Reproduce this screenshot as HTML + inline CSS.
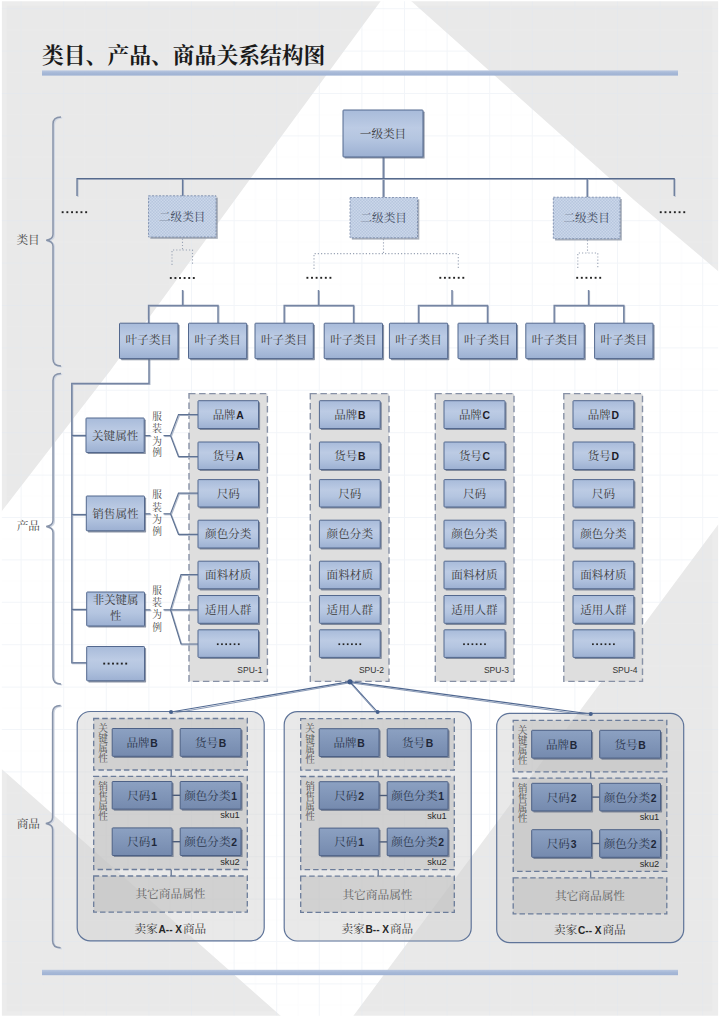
<!DOCTYPE html>
<html lang="zh"><head><meta charset="utf-8"><title>类目、产品、商品关系结构图</title>
<style>
html,body{margin:0;padding:0;background:#fff}
body{width:720px;height:1017px;overflow:hidden;font-family:"Liberation Sans",sans-serif}
svg{display:block}
svg text{font-family:"Liberation Sans",sans-serif;white-space:pre}
svg .c{font-family:"Liberation Serif","Noto Serif CJK SC",serif}
.h{fill-opacity:0;stroke:none}
</style></head><body>
<svg width="720" height="1017" viewBox="0 0 720 1017">
<defs>
<linearGradient id="gl" x1="0" y1="0" x2="0" y2="1"><stop offset="0" stop-color="#a8bbda"/><stop offset=".38" stop-color="#bccbe4"/><stop offset=".62" stop-color="#b4c5e0"/><stop offset="1" stop-color="#9cb0d2"/></linearGradient>
<linearGradient id="gb" x1="0" y1="0" x2="0" y2="1"><stop offset="0" stop-color="#b9c7e0"/><stop offset=".5" stop-color="#a6b8d7"/><stop offset="1" stop-color="#9fb2d3"/></linearGradient>
<linearGradient id="gd" x1="0" y1="0" x2="0" y2="1"><stop offset="0" stop-color="#8ca1c2"/><stop offset="1" stop-color="#758aae"/></linearGradient>
<pattern id="hatch" width="3" height="3" patternUnits="userSpaceOnUse"><rect x="0" y="0" width="1.5" height="1.5" fill="#cbd7ea"/><rect x="1.5" y="1.5" width="1.5" height="1.5" fill="#cbd7ea"/></pattern>
<pattern id="grid" width="42.6" height="42.4" x="20.6" y="8.2" patternUnits="userSpaceOnUse"><path d="M.5 0V42.4M0 .5H42.6" stroke="#e1e6f0" stroke-width="1" stroke-opacity=".42" fill="none"/><path d="M21.8 0V42.4M0 21.7H42.6" stroke="#e6ebf3" stroke-width="1" stroke-opacity=".15" fill="none"/></pattern>
</defs>
<rect width="720" height="1017" fill="#fff"/>
<rect x="1.5" y="1" width="717" height="1015" fill="#ececec"/>
<rect x="6.5" y="5.5" width="706" height="1006" fill="#e9e9e9"/>
<polygon points="381.5,0 410,0 634,200 720,272.7 720,522 352.5,1017 282,1017 0,767.5 0,513.5 110.8,370 264,160" fill="#fff"/>
<rect width="720" height="1017" fill="url(#grid)"/>
<path d="M0 0H720V1017H0Z M1.8 1.2V1015.8H718.2V1.2Z" fill="#fff" fill-rule="evenodd"/>
<rect x="42" y="70.4" width="636" height="5.2" fill="url(#gb)"/>
<rect x="42" y="969.8" width="636" height="5.4" fill="url(#gb)"/>
<text y="62.88" font-size="21.8" font-weight="700"><tspan x="42" class="c" fill="#1a1a1a">类目、产品、商品关系结构图</tspan></text>
<path d="M61 117 Q53 117 53 124 L53 234.3 Q53 239.3 46.2 240.3 Q53 241.3 53 246.3 L53 359 Q53 366 61 366" fill="none" stroke="#cfd6e2" stroke-width="1.6" transform="translate(1.2 .8)"/>
<path d="M61 117 Q53 117 53 124 L53 234.3 Q53 239.3 46.2 240.3 Q53 241.3 53 246.3 L53 359 Q53 366 61 366" fill="none" stroke="#8793a9" stroke-width="1.5"/>
<path d="M61 373.5 Q53 373.5 53 380.5 L53 520.5 Q53 525.5 46.2 526.5 Q53 527.5 53 532.5 L53 677 Q53 684 61 684" fill="none" stroke="#cfd6e2" stroke-width="1.6" transform="translate(1.2 .8)"/>
<path d="M61 373.5 Q53 373.5 53 380.5 L53 520.5 Q53 525.5 46.2 526.5 Q53 527.5 53 532.5 L53 677 Q53 684 61 684" fill="none" stroke="#8793a9" stroke-width="1.5"/>
<path d="M60.6 705.5 Q52.6 705.5 52.6 712.5 L52.6 817.5 Q52.6 822.5 45.8 823.5 Q52.6 824.5 52.6 829.5 L52.6 940.8 Q52.6 947.8 60.6 947.8" fill="none" stroke="#cfd6e2" stroke-width="1.6" transform="translate(1.2 .8)"/>
<path d="M60.6 705.5 Q52.6 705.5 52.6 712.5 L52.6 817.5 Q52.6 822.5 45.8 823.5 Q52.6 824.5 52.6 829.5 L52.6 940.8 Q52.6 947.8 60.6 947.8" fill="none" stroke="#8793a9" stroke-width="1.5"/>
<text y="244.41" font-size="11.6"><tspan x="16.4" class="c" fill="#444">类目</tspan></text>
<text y="530.41" font-size="11.6"><tspan x="16.7" class="c" fill="#444">产品</tspan></text>
<text y="827.81" font-size="11.6"><tspan x="16.7" class="c" fill="#444">商品</tspan></text>
<path d="M384.3 157.9 L384.3 197.9" fill="none" stroke="#b4bdcd" stroke-width="1.2"/>
<path d="M383.4 157 L383.4 197" fill="none" stroke="#7585a3" stroke-width="1.8"/>
<path d="M77.9 196.9 L77.9 179.5 L675.1 179.5 L675.1 196.9" fill="none" stroke="#b4bdcd" stroke-width="1.15"/>
<path d="M77 196 L77 178.6 L674.2 178.6 L674.2 196" fill="none" stroke="#566a8d" stroke-width="1.15"/>
<path d="M183.5 179.5 L183.5 196.9" fill="none" stroke="#b4bdcd" stroke-width="1.2"/>
<path d="M182.6 178.6 L182.6 196" fill="none" stroke="#66799b" stroke-width="1.4"/>
<path d="M588.1 179.5 L588.1 197.9" fill="none" stroke="#b4bdcd" stroke-width="1.2"/>
<path d="M587.2 178.6 L587.2 197" fill="none" stroke="#66799b" stroke-width="1.4"/>
<rect x="344.6" y="111.6" width="80" height="47" rx="0.7" fill="#5b6880" fill-opacity=".7"/>
<rect x="343" y="110" width="80" height="47" rx="0.7" fill="url(#gl)" stroke="#53688e" stroke-width="1"/>
<text y="138.21" font-size="11.6"><tspan x="359.8" class="c" fill="#3a3a3a">一级类目</tspan></text>
<rect x="150.3" y="197.6" width="67.5" height="41.2" fill="#8a93a3" fill-opacity=".75"/>
<rect x="148.5" y="195.8" width="67.5" height="41.2" fill="#b7c6de"/>
<rect x="148.5" y="195.8" width="67.5" height="41.2" fill="url(#hatch)" stroke="#7385a6" stroke-width=".8" stroke-dasharray="2 1.5"/>
<rect x="351.8" y="199.3" width="67.5" height="40.3" fill="#8a93a3" fill-opacity=".75"/>
<rect x="350" y="197.5" width="67.5" height="40.3" fill="#b7c6de"/>
<rect x="350" y="197.5" width="67.5" height="40.3" fill="url(#hatch)" stroke="#7385a6" stroke-width=".8" stroke-dasharray="2 1.5"/>
<rect x="555.1" y="199" width="66.7" height="41.5" fill="#8a93a3" fill-opacity=".75"/>
<rect x="553.3" y="197.2" width="66.7" height="41.5" fill="#b7c6de"/>
<rect x="553.3" y="197.2" width="66.7" height="41.5" fill="url(#hatch)" stroke="#7385a6" stroke-width=".8" stroke-dasharray="2 1.5"/>
<text y="220.81" font-size="11.6"><tspan x="159" class="c" fill="#3f4a5e">二级类目</tspan></text>
<text y="221.91" font-size="11.6"><tspan x="360.5" class="c" fill="#3f4a5e">二级类目</tspan></text>
<text y="222.21" font-size="11.6"><tspan x="563.4" class="c" fill="#3f4a5e">二级类目</tspan></text>
<g fill="#222"><rect x="61.7" y="211.25" width="1.9" height="1.9"/><rect x="66.4" y="211.25" width="1.9" height="1.9"/><rect x="71.1" y="211.25" width="1.9" height="1.9"/><rect x="75.8" y="211.25" width="1.9" height="1.9"/><rect x="80.5" y="211.25" width="1.9" height="1.9"/><rect x="85.2" y="211.25" width="1.9" height="1.9"/></g>
<text class="h" x="62.65" y="215.2" font-size="11">……</text>
<g fill="#222"><rect x="659.8" y="211.25" width="1.9" height="1.9"/><rect x="664.5" y="211.25" width="1.9" height="1.9"/><rect x="669.2" y="211.25" width="1.9" height="1.9"/><rect x="673.9" y="211.25" width="1.9" height="1.9"/><rect x="678.6" y="211.25" width="1.9" height="1.9"/><rect x="683.3" y="211.25" width="1.9" height="1.9"/></g>
<text class="h" x="660.75" y="215.2" font-size="11">……</text>
<path d="M182.5 238.5 L182.5 250" fill="none" stroke="#9aa4b5" stroke-width="1.1" stroke-dasharray="1.2 2"/>
<path d="M172 265 L172 250 L192.5 250 L192.5 265" fill="none" stroke="#9aa4b5" stroke-width="1.1" stroke-dasharray="1.2 2"/>
<path d="M383.5 239 L383.5 253.6" fill="none" stroke="#9aa4b5" stroke-width="1.1" stroke-dasharray="1.2 2"/>
<path d="M314 269 L314 253.6 L458.3 253.6 L458.3 269" fill="none" stroke="#9aa4b5" stroke-width="1.1" stroke-dasharray="1.2 2"/>
<path d="M587.5 240 L587.5 253" fill="none" stroke="#9aa4b5" stroke-width="1.1" stroke-dasharray="1.2 2"/>
<path d="M577.8 268 L577.8 253 L597.8 253 L597.8 268" fill="none" stroke="#9aa4b5" stroke-width="1.1" stroke-dasharray="1.2 2"/>
<g fill="#222"><rect x="169.85" y="277.05" width="1.9" height="1.9"/><rect x="174.45" y="277.05" width="1.9" height="1.9"/><rect x="179.05" y="277.05" width="1.9" height="1.9"/><rect x="183.65" y="277.05" width="1.9" height="1.9"/><rect x="188.25" y="277.05" width="1.9" height="1.9"/><rect x="192.85" y="277.05" width="1.9" height="1.9"/></g>
<text class="h" x="170.8" y="281" font-size="11">……</text>
<g fill="#222"><rect x="306.45" y="276.85" width="1.9" height="1.9"/><rect x="311.05" y="276.85" width="1.9" height="1.9"/><rect x="315.65" y="276.85" width="1.9" height="1.9"/><rect x="320.25" y="276.85" width="1.9" height="1.9"/><rect x="324.85" y="276.85" width="1.9" height="1.9"/><rect x="329.45" y="276.85" width="1.9" height="1.9"/></g>
<text class="h" x="307.4" y="280.8" font-size="11">……</text>
<g fill="#222"><rect x="439.35" y="276.85" width="1.9" height="1.9"/><rect x="443.95" y="276.85" width="1.9" height="1.9"/><rect x="448.55" y="276.85" width="1.9" height="1.9"/><rect x="453.15" y="276.85" width="1.9" height="1.9"/><rect x="457.75" y="276.85" width="1.9" height="1.9"/><rect x="462.35" y="276.85" width="1.9" height="1.9"/></g>
<text class="h" x="440.3" y="280.8" font-size="11">……</text>
<g fill="#222"><rect x="576.25" y="276.85" width="1.9" height="1.9"/><rect x="580.85" y="276.85" width="1.9" height="1.9"/><rect x="585.45" y="276.85" width="1.9" height="1.9"/><rect x="590.05" y="276.85" width="1.9" height="1.9"/><rect x="594.65" y="276.85" width="1.9" height="1.9"/><rect x="599.25" y="276.85" width="1.9" height="1.9"/></g>
<text class="h" x="577.2" y="280.8" font-size="11">……</text>
<path d="M183.5 290.9 L183.5 306.3" fill="none" stroke="#b4bdcd" stroke-width="1.2"/>
<path d="M182.6 290 L182.6 305.4" fill="none" stroke="#7585a3" stroke-width="1.5"/>
<path d="M149.5 323.9 L149.5 306.3 L218.9 306.3 L218.9 323.9" fill="none" stroke="#b4bdcd" stroke-width="1.2"/>
<path d="M148.6 323 L148.6 305.4 L218 305.4 L218 323" fill="none" stroke="#7585a3" stroke-width="1.5"/>
<path d="M319.4 290.9 L319.4 306.3" fill="none" stroke="#b4bdcd" stroke-width="1.2"/>
<path d="M318.5 290 L318.5 305.4" fill="none" stroke="#7585a3" stroke-width="1.5"/>
<path d="M285.1 323.9 L285.1 306.3 L354.5 306.3 L354.5 323.9" fill="none" stroke="#b4bdcd" stroke-width="1.2"/>
<path d="M284.2 323 L284.2 305.4 L353.6 305.4 L353.6 323" fill="none" stroke="#7585a3" stroke-width="1.5"/>
<path d="M452.9 290.9 L452.9 306.3" fill="none" stroke="#b4bdcd" stroke-width="1.2"/>
<path d="M452 290 L452 305.4" fill="none" stroke="#7585a3" stroke-width="1.5"/>
<path d="M419.4 323.9 L419.4 306.3 L488.4 306.3 L488.4 323.9" fill="none" stroke="#b4bdcd" stroke-width="1.2"/>
<path d="M418.5 323 L418.5 305.4 L487.5 305.4 L487.5 323" fill="none" stroke="#7585a3" stroke-width="1.5"/>
<path d="M589.5 290.9 L589.5 306.3" fill="none" stroke="#b4bdcd" stroke-width="1.2"/>
<path d="M588.6 290 L588.6 305.4" fill="none" stroke="#7585a3" stroke-width="1.5"/>
<path d="M555.1 323.9 L555.1 306.3 L624.7 306.3 L624.7 323.9" fill="none" stroke="#b4bdcd" stroke-width="1.2"/>
<path d="M554.2 323 L554.2 305.4 L623.8 305.4 L623.8 323" fill="none" stroke="#7585a3" stroke-width="1.5"/>
<path d="M149.9 359.9 L149.9 384.5 L72.7 384.5 L72.7 663.7 L87.6 663.7" fill="none" stroke="#b4bdcd" stroke-width="1.2"/>
<path d="M149 359 L149 383.6 L71.8 383.6 L71.8 662.8 L86.7 662.8" fill="none" stroke="#7585a3" stroke-width="1.5"/>
<path d="M72.7 436.4 L86.9 436.4" fill="none" stroke="#b4bdcd" stroke-width="1.2"/>
<path d="M71.8 435.5 L86 435.5" fill="none" stroke="#5f7394" stroke-width="1.4"/>
<path d="M72.7 515.5 L86.9 515.5" fill="none" stroke="#b4bdcd" stroke-width="1.2"/>
<path d="M71.8 514.6 L86 514.6" fill="none" stroke="#5f7394" stroke-width="1.4"/>
<path d="M72.7 610.4 L87.6 610.4" fill="none" stroke="#b4bdcd" stroke-width="1.2"/>
<path d="M71.8 609.5 L86.7 609.5" fill="none" stroke="#5f7394" stroke-width="1.4"/>
<rect x="121.1" y="324.8" width="58.5" height="35.4" rx="0.7" fill="#5b6880" fill-opacity=".7"/>
<rect x="119.5" y="323.2" width="58.5" height="35.4" rx="0.7" fill="url(#gl)" stroke="#53688e" stroke-width="1"/>
<text y="344.41" font-size="11.6"><tspan x="125.55" class="c" fill="#3a3a3a">叶子类目</tspan></text>
<rect x="190.1" y="324.8" width="58.2" height="35.4" rx="0.7" fill="#5b6880" fill-opacity=".7"/>
<rect x="188.5" y="323.2" width="58.2" height="35.4" rx="0.7" fill="url(#gl)" stroke="#53688e" stroke-width="1"/>
<text y="344.41" font-size="11.6"><tspan x="194.4" class="c" fill="#3a3a3a">叶子类目</tspan></text>
<rect x="256.6" y="324.8" width="58.3" height="35.4" rx="0.7" fill="#5b6880" fill-opacity=".7"/>
<rect x="255" y="323.2" width="58.3" height="35.4" rx="0.7" fill="url(#gl)" stroke="#53688e" stroke-width="1"/>
<text y="344.41" font-size="11.6"><tspan x="260.95" class="c" fill="#3a3a3a">叶子类目</tspan></text>
<rect x="325.8" y="324.8" width="58.3" height="35.4" rx="0.7" fill="#5b6880" fill-opacity=".7"/>
<rect x="324.2" y="323.2" width="58.3" height="35.4" rx="0.7" fill="url(#gl)" stroke="#53688e" stroke-width="1"/>
<text y="344.41" font-size="11.6"><tspan x="330.15" class="c" fill="#3a3a3a">叶子类目</tspan></text>
<rect x="391" y="324.8" width="58.3" height="35.4" rx="0.7" fill="#5b6880" fill-opacity=".7"/>
<rect x="389.4" y="323.2" width="58.3" height="35.4" rx="0.7" fill="url(#gl)" stroke="#53688e" stroke-width="1"/>
<text y="344.41" font-size="11.6"><tspan x="395.35" class="c" fill="#3a3a3a">叶子类目</tspan></text>
<rect x="459.6" y="324.8" width="58.5" height="35.4" rx="0.7" fill="#5b6880" fill-opacity=".7"/>
<rect x="458" y="323.2" width="58.5" height="35.4" rx="0.7" fill="url(#gl)" stroke="#53688e" stroke-width="1"/>
<text y="344.41" font-size="11.6"><tspan x="464.05" class="c" fill="#3a3a3a">叶子类目</tspan></text>
<rect x="527.4" y="324.8" width="58.4" height="35.4" rx="0.7" fill="#5b6880" fill-opacity=".7"/>
<rect x="525.8" y="323.2" width="58.4" height="35.4" rx="0.7" fill="url(#gl)" stroke="#53688e" stroke-width="1"/>
<text y="344.41" font-size="11.6"><tspan x="531.8" class="c" fill="#3a3a3a">叶子类目</tspan></text>
<rect x="596.2" y="324.8" width="58.4" height="35.4" rx="0.7" fill="#5b6880" fill-opacity=".7"/>
<rect x="594.6" y="323.2" width="58.4" height="35.4" rx="0.7" fill="url(#gl)" stroke="#53688e" stroke-width="1"/>
<text y="344.41" font-size="11.6"><tspan x="600.6" class="c" fill="#3a3a3a">叶子类目</tspan></text>
<rect x="189" y="393.6" width="78.4" height="287.8" fill="#dedede" stroke="#8791a6" stroke-width="1.4" stroke-dasharray="6.5 3.6"/>
<rect x="310.3" y="393.6" width="78.7" height="287.8" fill="#dedede" stroke="#8791a6" stroke-width="1.4" stroke-dasharray="6.5 3.6"/>
<rect x="435.3" y="393.6" width="78.7" height="287.8" fill="#dedede" stroke="#8791a6" stroke-width="1.4" stroke-dasharray="6.5 3.6"/>
<rect x="563.8" y="393.6" width="78.7" height="287.8" fill="#dedede" stroke="#8791a6" stroke-width="1.4" stroke-dasharray="6.5 3.6"/>
<path d="M145.4 436.5 L151.4 436.5" fill="none" stroke="#b4bdcd" stroke-width="1.2"/>
<path d="M144.5 435.6 L150.5 435.6" fill="none" stroke="#5f7394" stroke-width="1.2"/>
<path d="M164.4 436.5 L171.4 436.5" fill="none" stroke="#b4bdcd" stroke-width="1.2"/>
<path d="M163.5 435.6 L170.5 435.6" fill="none" stroke="#5f7394" stroke-width="1.2"/>
<path d="M171.4 436.5 L179.4 415.5 L198.9 415.5" fill="none" stroke="#b4bdcd" stroke-width="1.2"/>
<path d="M170.5 435.6 L178.5 414.6 L198 414.6" fill="none" stroke="#5f7394" stroke-width="1.2"/>
<path d="M171.4 436.5 L179.4 457.5 L198.9 457.5" fill="none" stroke="#b4bdcd" stroke-width="1.2"/>
<path d="M170.5 435.6 L178.5 456.6 L198 456.6" fill="none" stroke="#5f7394" stroke-width="1.2"/>
<path d="M145.4 514.7 L151.4 514.7" fill="none" stroke="#b4bdcd" stroke-width="1.2"/>
<path d="M144.5 513.8 L150.5 513.8" fill="none" stroke="#5f7394" stroke-width="1.2"/>
<path d="M164.4 514.7 L171.4 514.7" fill="none" stroke="#b4bdcd" stroke-width="1.2"/>
<path d="M163.5 513.8 L170.5 513.8" fill="none" stroke="#5f7394" stroke-width="1.2"/>
<path d="M171.4 514.7 L179.4 494.1 L198.9 494.1" fill="none" stroke="#b4bdcd" stroke-width="1.2"/>
<path d="M170.5 513.8 L178.5 493.2 L198 493.2" fill="none" stroke="#5f7394" stroke-width="1.2"/>
<path d="M171.4 514.7 L179.4 535.3 L198.9 535.3" fill="none" stroke="#b4bdcd" stroke-width="1.2"/>
<path d="M170.5 513.8 L178.5 534.4 L198 534.4" fill="none" stroke="#5f7394" stroke-width="1.2"/>
<path d="M145.4 610.7 L151.4 610.7" fill="none" stroke="#b4bdcd" stroke-width="1.2"/>
<path d="M144.5 609.8 L150.5 609.8" fill="none" stroke="#5f7394" stroke-width="1.2"/>
<path d="M164.4 610.7 L171.4 610.7" fill="none" stroke="#b4bdcd" stroke-width="1.2"/>
<path d="M163.5 609.8 L170.5 609.8" fill="none" stroke="#5f7394" stroke-width="1.2"/>
<path d="M171.4 610.7 L181.9 575.5 L198.9 575.5" fill="none" stroke="#b4bdcd" stroke-width="1.2"/>
<path d="M170.5 609.8 L181 574.6 L198 574.6" fill="none" stroke="#5f7394" stroke-width="1.2"/>
<path d="M171.4 610.7 L198.9 610.7" fill="none" stroke="#b4bdcd" stroke-width="1.2"/>
<path d="M170.5 609.8 L198 609.8" fill="none" stroke="#5f7394" stroke-width="1.2"/>
<path d="M171.4 610.7 L181.9 644.9 L198.9 644.9" fill="none" stroke="#b4bdcd" stroke-width="1.2"/>
<path d="M170.5 609.8 L181 644 L198 644" fill="none" stroke="#5f7394" stroke-width="1.2"/>
<rect x="87.6" y="419.6" width="58.2" height="34.5" rx="0.7" fill="#5b6880" fill-opacity=".7"/>
<rect x="86" y="418" width="58.2" height="34.5" rx="0.7" fill="url(#gl)" stroke="#53688e" stroke-width="1"/>
<text y="439.61" font-size="11.6"><tspan x="92" class="c" fill="#3a3a3a">关键属性</tspan></text>
<rect x="87.9" y="497.6" width="58.2" height="34.8" rx="0.7" fill="#5b6880" fill-opacity=".7"/>
<rect x="86.3" y="496" width="58.2" height="34.8" rx="0.7" fill="url(#gl)" stroke="#53688e" stroke-width="1"/>
<text y="517.81" font-size="11.6"><tspan x="92.2" class="c" fill="#3a3a3a">销售属性</tspan></text>
<rect x="88.3" y="593.6" width="57.8" height="34" rx="0.7" fill="#5b6880" fill-opacity=".7"/>
<rect x="86.7" y="592" width="57.8" height="34" rx="0.7" fill="url(#gl)" stroke="#53688e" stroke-width="1"/>
<text y="603.93" font-size="11.4"><tspan x="92.8" class="c" fill="#3a3a3a">非关键属</tspan></text>
<text y="619.93" font-size="11.4"><tspan x="109.9" class="c" fill="#3a3a3a">性</tspan></text>
<rect x="88.3" y="648.1" width="57.8" height="34.3" rx="0.7" fill="#5b6880" fill-opacity=".7"/>
<rect x="86.7" y="646.5" width="57.8" height="34.3" rx="0.7" fill="url(#gl)" stroke="#53688e" stroke-width="1"/>
<g fill="#222"><rect x="103.25" y="662.65" width="1.9" height="1.9"/><rect x="107.65" y="662.65" width="1.9" height="1.9"/><rect x="112.05" y="662.65" width="1.9" height="1.9"/><rect x="116.45" y="662.65" width="1.9" height="1.9"/><rect x="120.85" y="662.65" width="1.9" height="1.9"/><rect x="125.25" y="662.65" width="1.9" height="1.9"/></g>
<text class="h" x="104.2" y="666.6" font-size="11">……</text>
<text class="c" font-size="9.7" fill="#4a4a4a"><tspan x="152.15" y="420.09">服</tspan><tspan x="152.15" y="432.49">装</tspan><tspan x="152.15" y="444.69">为</tspan><tspan x="152.15" y="456.49">例</tspan></text>
<text class="c" font-size="9.7" fill="#4a4a4a"><tspan x="152.15" y="498.19">服</tspan><tspan x="152.15" y="510.59">装</tspan><tspan x="152.15" y="522.79">为</tspan><tspan x="152.15" y="534.59">例</tspan></text>
<text class="c" font-size="9.7" fill="#4a4a4a"><tspan x="152.15" y="593.89">服</tspan><tspan x="152.15" y="606.49">装</tspan><tspan x="152.15" y="618.49">为</tspan><tspan x="152.15" y="630.69">例</tspan></text>
<rect x="199.6" y="402.3" width="60.5" height="27.8" rx="0.7" fill="#5b6880" fill-opacity=".7"/>
<rect x="198" y="400.7" width="60.5" height="27.8" rx="0.7" fill="url(#gl)" stroke="#53688e" stroke-width="1"/>
<text y="418.77" font-size="11.5"><tspan x="212.64" class="c" fill="#3a3a3a">品牌</tspan><tspan x="236.34" font-size="10.4" font-weight="700" fill="#1c1c28">A</tspan></text>
<rect x="199.6" y="443.6" width="60.5" height="27.5" rx="0.7" fill="#5b6880" fill-opacity=".7"/>
<rect x="198" y="442" width="60.5" height="27.5" rx="0.7" fill="url(#gl)" stroke="#53688e" stroke-width="1"/>
<text y="459.92" font-size="11.5"><tspan x="212.64" class="c" fill="#3a3a3a">货号</tspan><tspan x="236.34" font-size="10.4" font-weight="700" fill="#1c1c28">A</tspan></text>
<rect x="199.6" y="481.2" width="60.5" height="27.4" rx="0.7" fill="#5b6880" fill-opacity=".7"/>
<rect x="198" y="479.6" width="60.5" height="27.4" rx="0.7" fill="url(#gl)" stroke="#53688e" stroke-width="1"/>
<text y="497.51" font-size="11.6"><tspan x="216.65" class="c" fill="#3a3a3a">尺码</tspan></text>
<rect x="199.6" y="521.8" width="60.5" height="27.8" rx="0.7" fill="#5b6880" fill-opacity=".7"/>
<rect x="198" y="520.2" width="60.5" height="27.8" rx="0.7" fill="url(#gl)" stroke="#53688e" stroke-width="1"/>
<text y="538.31" font-size="11.6"><tspan x="205.05" class="c" fill="#3a3a3a">颜色分类</tspan></text>
<rect x="199.6" y="562.8" width="60.5" height="27.6" rx="0.7" fill="#5b6880" fill-opacity=".7"/>
<rect x="198" y="561.2" width="60.5" height="27.6" rx="0.7" fill="url(#gl)" stroke="#53688e" stroke-width="1"/>
<text y="579.21" font-size="11.6"><tspan x="205.05" class="c" fill="#3a3a3a">面料材质</tspan></text>
<rect x="199.6" y="597.1" width="60.5" height="27.8" rx="0.7" fill="#5b6880" fill-opacity=".7"/>
<rect x="198" y="595.5" width="60.5" height="27.8" rx="0.7" fill="url(#gl)" stroke="#53688e" stroke-width="1"/>
<text y="613.61" font-size="11.6"><tspan x="205.05" class="c" fill="#3a3a3a">适用人群</tspan></text>
<rect x="199.6" y="631.4" width="60.5" height="27.6" rx="0.7" fill="#5b6880" fill-opacity=".7"/>
<rect x="198" y="629.8" width="60.5" height="27.6" rx="0.7" fill="url(#gl)" stroke="#53688e" stroke-width="1"/>
<g fill="#222"><rect x="216.9" y="643.35" width="1.7" height="1.7"/><rect x="221.1" y="643.35" width="1.7" height="1.7"/><rect x="225.3" y="643.35" width="1.7" height="1.7"/><rect x="229.5" y="643.35" width="1.7" height="1.7"/><rect x="233.7" y="643.35" width="1.7" height="1.7"/><rect x="237.9" y="643.35" width="1.7" height="1.7"/></g>
<text class="h" x="217.75" y="647.2" font-size="11">……</text>
<text x="262.4" y="673.4" text-anchor="end" font-size="8.5" fill="#333">SPU-1</text>
<rect x="321" y="402.3" width="60.8" height="27.8" rx="0.7" fill="#5b6880" fill-opacity=".7"/>
<rect x="319.4" y="400.7" width="60.8" height="27.8" rx="0.7" fill="url(#gl)" stroke="#53688e" stroke-width="1"/>
<text y="418.77" font-size="11.5"><tspan x="334.19" class="c" fill="#3a3a3a">品牌</tspan><tspan x="357.89" font-size="10.4" font-weight="700" fill="#1c1c28">B</tspan></text>
<rect x="321" y="443.6" width="60.8" height="27.5" rx="0.7" fill="#5b6880" fill-opacity=".7"/>
<rect x="319.4" y="442" width="60.8" height="27.5" rx="0.7" fill="url(#gl)" stroke="#53688e" stroke-width="1"/>
<text y="459.92" font-size="11.5"><tspan x="334.19" class="c" fill="#3a3a3a">货号</tspan><tspan x="357.89" font-size="10.4" font-weight="700" fill="#1c1c28">B</tspan></text>
<rect x="321" y="481.2" width="60.8" height="27.4" rx="0.7" fill="#5b6880" fill-opacity=".7"/>
<rect x="319.4" y="479.6" width="60.8" height="27.4" rx="0.7" fill="url(#gl)" stroke="#53688e" stroke-width="1"/>
<text y="497.51" font-size="11.6"><tspan x="338.2" class="c" fill="#3a3a3a">尺码</tspan></text>
<rect x="321" y="521.8" width="60.8" height="27.8" rx="0.7" fill="#5b6880" fill-opacity=".7"/>
<rect x="319.4" y="520.2" width="60.8" height="27.8" rx="0.7" fill="url(#gl)" stroke="#53688e" stroke-width="1"/>
<text y="538.31" font-size="11.6"><tspan x="326.6" class="c" fill="#3a3a3a">颜色分类</tspan></text>
<rect x="321" y="562.8" width="60.8" height="27.6" rx="0.7" fill="#5b6880" fill-opacity=".7"/>
<rect x="319.4" y="561.2" width="60.8" height="27.6" rx="0.7" fill="url(#gl)" stroke="#53688e" stroke-width="1"/>
<text y="579.21" font-size="11.6"><tspan x="326.6" class="c" fill="#3a3a3a">面料材质</tspan></text>
<rect x="321" y="597.1" width="60.8" height="27.8" rx="0.7" fill="#5b6880" fill-opacity=".7"/>
<rect x="319.4" y="595.5" width="60.8" height="27.8" rx="0.7" fill="url(#gl)" stroke="#53688e" stroke-width="1"/>
<text y="613.61" font-size="11.6"><tspan x="326.6" class="c" fill="#3a3a3a">适用人群</tspan></text>
<rect x="321" y="631.4" width="60.8" height="27.6" rx="0.7" fill="#5b6880" fill-opacity=".7"/>
<rect x="319.4" y="629.8" width="60.8" height="27.6" rx="0.7" fill="url(#gl)" stroke="#53688e" stroke-width="1"/>
<g fill="#222"><rect x="338.45" y="643.35" width="1.7" height="1.7"/><rect x="342.65" y="643.35" width="1.7" height="1.7"/><rect x="346.85" y="643.35" width="1.7" height="1.7"/><rect x="351.05" y="643.35" width="1.7" height="1.7"/><rect x="355.25" y="643.35" width="1.7" height="1.7"/><rect x="359.45" y="643.35" width="1.7" height="1.7"/></g>
<text class="h" x="339.3" y="647.2" font-size="11">……</text>
<text x="384" y="673.4" text-anchor="end" font-size="8.5" fill="#333">SPU-2</text>
<rect x="445.6" y="402.3" width="61" height="27.8" rx="0.7" fill="#5b6880" fill-opacity=".7"/>
<rect x="444" y="400.7" width="61" height="27.8" rx="0.7" fill="url(#gl)" stroke="#53688e" stroke-width="1"/>
<text y="418.77" font-size="11.5"><tspan x="458.89" class="c" fill="#3a3a3a">品牌</tspan><tspan x="482.59" font-size="10.4" font-weight="700" fill="#1c1c28">C</tspan></text>
<rect x="445.6" y="443.6" width="61" height="27.5" rx="0.7" fill="#5b6880" fill-opacity=".7"/>
<rect x="444" y="442" width="61" height="27.5" rx="0.7" fill="url(#gl)" stroke="#53688e" stroke-width="1"/>
<text y="459.92" font-size="11.5"><tspan x="458.89" class="c" fill="#3a3a3a">货号</tspan><tspan x="482.59" font-size="10.4" font-weight="700" fill="#1c1c28">C</tspan></text>
<rect x="445.6" y="481.2" width="61" height="27.4" rx="0.7" fill="#5b6880" fill-opacity=".7"/>
<rect x="444" y="479.6" width="61" height="27.4" rx="0.7" fill="url(#gl)" stroke="#53688e" stroke-width="1"/>
<text y="497.51" font-size="11.6"><tspan x="462.9" class="c" fill="#3a3a3a">尺码</tspan></text>
<rect x="445.6" y="521.8" width="61" height="27.8" rx="0.7" fill="#5b6880" fill-opacity=".7"/>
<rect x="444" y="520.2" width="61" height="27.8" rx="0.7" fill="url(#gl)" stroke="#53688e" stroke-width="1"/>
<text y="538.31" font-size="11.6"><tspan x="451.3" class="c" fill="#3a3a3a">颜色分类</tspan></text>
<rect x="445.6" y="562.8" width="61" height="27.6" rx="0.7" fill="#5b6880" fill-opacity=".7"/>
<rect x="444" y="561.2" width="61" height="27.6" rx="0.7" fill="url(#gl)" stroke="#53688e" stroke-width="1"/>
<text y="579.21" font-size="11.6"><tspan x="451.3" class="c" fill="#3a3a3a">面料材质</tspan></text>
<rect x="445.6" y="597.1" width="61" height="27.8" rx="0.7" fill="#5b6880" fill-opacity=".7"/>
<rect x="444" y="595.5" width="61" height="27.8" rx="0.7" fill="url(#gl)" stroke="#53688e" stroke-width="1"/>
<text y="613.61" font-size="11.6"><tspan x="451.3" class="c" fill="#3a3a3a">适用人群</tspan></text>
<rect x="445.6" y="631.4" width="61" height="27.6" rx="0.7" fill="#5b6880" fill-opacity=".7"/>
<rect x="444" y="629.8" width="61" height="27.6" rx="0.7" fill="url(#gl)" stroke="#53688e" stroke-width="1"/>
<g fill="#222"><rect x="463.15" y="643.35" width="1.7" height="1.7"/><rect x="467.35" y="643.35" width="1.7" height="1.7"/><rect x="471.55" y="643.35" width="1.7" height="1.7"/><rect x="475.75" y="643.35" width="1.7" height="1.7"/><rect x="479.95" y="643.35" width="1.7" height="1.7"/><rect x="484.15" y="643.35" width="1.7" height="1.7"/></g>
<text class="h" x="464" y="647.2" font-size="11">……</text>
<text x="509" y="673.4" text-anchor="end" font-size="8.5" fill="#333">SPU-3</text>
<rect x="574.6" y="402.3" width="60.8" height="27.8" rx="0.7" fill="#5b6880" fill-opacity=".7"/>
<rect x="573" y="400.7" width="60.8" height="27.8" rx="0.7" fill="url(#gl)" stroke="#53688e" stroke-width="1"/>
<text y="418.77" font-size="11.5"><tspan x="587.79" class="c" fill="#3a3a3a">品牌</tspan><tspan x="611.49" font-size="10.4" font-weight="700" fill="#1c1c28">D</tspan></text>
<rect x="574.6" y="443.6" width="60.8" height="27.5" rx="0.7" fill="#5b6880" fill-opacity=".7"/>
<rect x="573" y="442" width="60.8" height="27.5" rx="0.7" fill="url(#gl)" stroke="#53688e" stroke-width="1"/>
<text y="459.92" font-size="11.5"><tspan x="587.79" class="c" fill="#3a3a3a">货号</tspan><tspan x="611.49" font-size="10.4" font-weight="700" fill="#1c1c28">D</tspan></text>
<rect x="574.6" y="481.2" width="60.8" height="27.4" rx="0.7" fill="#5b6880" fill-opacity=".7"/>
<rect x="573" y="479.6" width="60.8" height="27.4" rx="0.7" fill="url(#gl)" stroke="#53688e" stroke-width="1"/>
<text y="497.51" font-size="11.6"><tspan x="591.8" class="c" fill="#3a3a3a">尺码</tspan></text>
<rect x="574.6" y="521.8" width="60.8" height="27.8" rx="0.7" fill="#5b6880" fill-opacity=".7"/>
<rect x="573" y="520.2" width="60.8" height="27.8" rx="0.7" fill="url(#gl)" stroke="#53688e" stroke-width="1"/>
<text y="538.31" font-size="11.6"><tspan x="580.2" class="c" fill="#3a3a3a">颜色分类</tspan></text>
<rect x="574.6" y="562.8" width="60.8" height="27.6" rx="0.7" fill="#5b6880" fill-opacity=".7"/>
<rect x="573" y="561.2" width="60.8" height="27.6" rx="0.7" fill="url(#gl)" stroke="#53688e" stroke-width="1"/>
<text y="579.21" font-size="11.6"><tspan x="580.2" class="c" fill="#3a3a3a">面料材质</tspan></text>
<rect x="574.6" y="597.1" width="60.8" height="27.8" rx="0.7" fill="#5b6880" fill-opacity=".7"/>
<rect x="573" y="595.5" width="60.8" height="27.8" rx="0.7" fill="url(#gl)" stroke="#53688e" stroke-width="1"/>
<text y="613.61" font-size="11.6"><tspan x="580.2" class="c" fill="#3a3a3a">适用人群</tspan></text>
<rect x="574.6" y="631.4" width="60.8" height="27.6" rx="0.7" fill="#5b6880" fill-opacity=".7"/>
<rect x="573" y="629.8" width="60.8" height="27.6" rx="0.7" fill="url(#gl)" stroke="#53688e" stroke-width="1"/>
<g fill="#222"><rect x="592.05" y="643.35" width="1.7" height="1.7"/><rect x="596.25" y="643.35" width="1.7" height="1.7"/><rect x="600.45" y="643.35" width="1.7" height="1.7"/><rect x="604.65" y="643.35" width="1.7" height="1.7"/><rect x="608.85" y="643.35" width="1.7" height="1.7"/><rect x="613.05" y="643.35" width="1.7" height="1.7"/></g>
<text class="h" x="592.9" y="647.2" font-size="11">……</text>
<text x="637.5" y="673.4" text-anchor="end" font-size="8.5" fill="#333">SPU-4</text>
<path d="M350 682.8 L171 713.6" stroke="#4f6790" stroke-width=".9" fill="none" stroke-opacity=".75"/>
<path d="M350 681.6 L171 712" stroke="#4f6790" stroke-width="1.1" fill="none"/>
<path d="M350 682.8 L377.6 713.6" stroke="#4f6790" stroke-width=".9" fill="none" stroke-opacity=".75"/>
<path d="M350 681.6 L377.6 712" stroke="#4f6790" stroke-width="1.1" fill="none"/>
<path d="M350 682.8 L590.8 715.6" stroke="#4f6790" stroke-width=".9" fill="none" stroke-opacity=".75"/>
<path d="M350 681.6 L590.8 714" stroke="#4f6790" stroke-width="1.1" fill="none"/>
<rect x="77.2" y="711.5" width="187" height="229.3" rx="13" fill="#cfcfcf" fill-opacity=".46" stroke="#5f7499" stroke-width="1.2"/>
<path d="M171.2 770 L171.2 776.5" fill="none" stroke="#5a6c8c" stroke-width="1.2"/>
<path d="M171.2 869.5 L171.2 876" fill="none" stroke="#5a6c8c" stroke-width="1.2"/>
<rect x="93.7" y="718.5" width="153.6" height="51.5" fill="#c2c2c2" fill-opacity=".62" stroke="#6b7c9a" stroke-width="1.3" stroke-dasharray="5.5 3"/>
<rect x="93.7" y="776.3" width="153.6" height="93.2" fill="#c2c2c2" fill-opacity=".62" stroke="#6b7c9a" stroke-width="1.3" stroke-dasharray="5.5 3"/>
<rect x="93.7" y="876" width="153.6" height="36.1" fill="#c2c2c2" fill-opacity=".62" stroke="#6b7c9a" stroke-width="1.3" stroke-dasharray="5.5 3"/>
<rect x="113.8" y="730.1" width="59.8" height="27.8" rx="0.7" fill="#5b6880" fill-opacity=".7"/>
<rect x="112.2" y="728.5" width="59.8" height="27.8" rx="0.7" fill="url(#gd)" stroke="#4d6186" stroke-width="1"/>
<text y="746.71" font-size="11.6"><tspan x="126.39" class="c" fill="#2c374d">品牌</tspan><tspan x="150.29" font-size="10.4" font-weight="700" fill="#1e2738">B</tspan></text>
<rect x="181.8" y="730.1" width="60.8" height="27.8" rx="0.7" fill="#5b6880" fill-opacity=".7"/>
<rect x="180.2" y="728.5" width="60.8" height="27.8" rx="0.7" fill="url(#gd)" stroke="#4d6186" stroke-width="1"/>
<text y="746.71" font-size="11.6"><tspan x="194.89" class="c" fill="#2c374d">货号</tspan><tspan x="218.79" font-size="10.4" font-weight="700" fill="#1e2738">B</tspan></text>
<path d="M172 795.3 L180.2 795.3" fill="none" stroke="#4a5a78" stroke-width="1.4"/>
<rect x="113.8" y="783.1" width="59.8" height="27.6" rx="0.7" fill="#5b6880" fill-opacity=".7"/>
<rect x="112.2" y="781.5" width="59.8" height="27.6" rx="0.7" fill="url(#gd)" stroke="#4d6186" stroke-width="1"/>
<text y="799.71" font-size="11.6"><tspan x="127.26" class="c" fill="#2c374d">尺码</tspan><tspan x="151.16" font-size="10.4" font-weight="700" fill="#1e2738">1</tspan></text>
<rect x="181.8" y="783.1" width="60.8" height="27.6" rx="0.7" fill="#5b6880" fill-opacity=".7"/>
<rect x="180.2" y="781.5" width="60.8" height="27.6" rx="0.7" fill="url(#gd)" stroke="#4d6186" stroke-width="1"/>
<text y="799.71" font-size="11.6"><tspan x="184.16" class="c" fill="#2c374d">颜色分类</tspan><tspan x="231.26" font-size="10.4" font-weight="700" fill="#1e2738">1</tspan></text>
<text x="239.8" y="818.3" text-anchor="end" font-size="9.3" fill="#2a2a2a">sku1</text>
<path d="M172 841.7 L180.2 841.7" fill="none" stroke="#4a5a78" stroke-width="1.4"/>
<rect x="113.8" y="829.5" width="59.8" height="27.6" rx="0.7" fill="#5b6880" fill-opacity=".7"/>
<rect x="112.2" y="827.9" width="59.8" height="27.6" rx="0.7" fill="url(#gd)" stroke="#4d6186" stroke-width="1"/>
<text y="846.11" font-size="11.6"><tspan x="127.26" class="c" fill="#2c374d">尺码</tspan><tspan x="151.16" font-size="10.4" font-weight="700" fill="#1e2738">1</tspan></text>
<rect x="181.8" y="829.5" width="60.8" height="27.6" rx="0.7" fill="#5b6880" fill-opacity=".7"/>
<rect x="180.2" y="827.9" width="60.8" height="27.6" rx="0.7" fill="url(#gd)" stroke="#4d6186" stroke-width="1"/>
<text y="846.11" font-size="11.6"><tspan x="184.16" class="c" fill="#2c374d">颜色分类</tspan><tspan x="231.26" font-size="10.4" font-weight="700" fill="#1e2738">2</tspan></text>
<text x="239.8" y="864.7" text-anchor="end" font-size="9.3" fill="#2a2a2a">sku2</text>
<text class="c" font-size="9.7" fill="#505050"><tspan x="98.35" y="732.19">关</tspan><tspan x="98.35" y="742.39">键</tspan><tspan x="98.35" y="752.49">属</tspan><tspan x="98.35" y="762.39">性</tspan></text>
<text class="c" font-size="9.7" fill="#505050"><tspan x="98.35" y="789.79">销</tspan><tspan x="98.35" y="799.89">售</tspan><tspan x="98.35" y="809.89">属</tspan><tspan x="98.35" y="819.89">性</tspan></text>
<text y="898.45" font-size="11.7"><tspan x="135.4" class="c" fill="#636363">其它商品属性</tspan></text>
<text y="932.51" font-size="11.6"><tspan x="134.62" class="c" fill="#3a3a3a">卖家</tspan><tspan x="158.52" font-size="10.1" font-weight="700" fill="#262626">A-- X</tspan><tspan x="182.98" class="c" fill="#3a3a3a">商品</tspan></text>
<rect x="284.2" y="711.7" width="187" height="229.3" rx="13" fill="#cfcfcf" fill-opacity=".46" stroke="#5f7499" stroke-width="1.2"/>
<path d="M378.2 770.2 L378.2 776.7" fill="none" stroke="#5a6c8c" stroke-width="1.2"/>
<path d="M378.2 869.7 L378.2 876.2" fill="none" stroke="#5a6c8c" stroke-width="1.2"/>
<rect x="300.7" y="718.7" width="153.6" height="51.5" fill="#c2c2c2" fill-opacity=".62" stroke="#6b7c9a" stroke-width="1.3" stroke-dasharray="5.5 3"/>
<rect x="300.7" y="776.5" width="153.6" height="93.2" fill="#c2c2c2" fill-opacity=".62" stroke="#6b7c9a" stroke-width="1.3" stroke-dasharray="5.5 3"/>
<rect x="300.7" y="876.2" width="153.6" height="36.1" fill="#c2c2c2" fill-opacity=".62" stroke="#6b7c9a" stroke-width="1.3" stroke-dasharray="5.5 3"/>
<rect x="320.8" y="730.3" width="59.8" height="27.8" rx="0.7" fill="#5b6880" fill-opacity=".7"/>
<rect x="319.2" y="728.7" width="59.8" height="27.8" rx="0.7" fill="url(#gd)" stroke="#4d6186" stroke-width="1"/>
<text y="746.91" font-size="11.6"><tspan x="333.39" class="c" fill="#2c374d">品牌</tspan><tspan x="357.29" font-size="10.4" font-weight="700" fill="#1e2738">B</tspan></text>
<rect x="388.8" y="730.3" width="60.8" height="27.8" rx="0.7" fill="#5b6880" fill-opacity=".7"/>
<rect x="387.2" y="728.7" width="60.8" height="27.8" rx="0.7" fill="url(#gd)" stroke="#4d6186" stroke-width="1"/>
<text y="746.91" font-size="11.6"><tspan x="401.89" class="c" fill="#2c374d">货号</tspan><tspan x="425.79" font-size="10.4" font-weight="700" fill="#1e2738">B</tspan></text>
<path d="M379 795.5 L387.2 795.5" fill="none" stroke="#4a5a78" stroke-width="1.4"/>
<rect x="320.8" y="783.3" width="59.8" height="27.6" rx="0.7" fill="#5b6880" fill-opacity=".7"/>
<rect x="319.2" y="781.7" width="59.8" height="27.6" rx="0.7" fill="url(#gd)" stroke="#4d6186" stroke-width="1"/>
<text y="799.91" font-size="11.6"><tspan x="334.26" class="c" fill="#2c374d">尺码</tspan><tspan x="358.16" font-size="10.4" font-weight="700" fill="#1e2738">2</tspan></text>
<rect x="388.8" y="783.3" width="60.8" height="27.6" rx="0.7" fill="#5b6880" fill-opacity=".7"/>
<rect x="387.2" y="781.7" width="60.8" height="27.6" rx="0.7" fill="url(#gd)" stroke="#4d6186" stroke-width="1"/>
<text y="799.91" font-size="11.6"><tspan x="391.16" class="c" fill="#2c374d">颜色分类</tspan><tspan x="438.26" font-size="10.4" font-weight="700" fill="#1e2738">1</tspan></text>
<text x="446.8" y="818.5" text-anchor="end" font-size="9.3" fill="#2a2a2a">sku1</text>
<path d="M379 841.9 L387.2 841.9" fill="none" stroke="#4a5a78" stroke-width="1.4"/>
<rect x="320.8" y="829.7" width="59.8" height="27.6" rx="0.7" fill="#5b6880" fill-opacity=".7"/>
<rect x="319.2" y="828.1" width="59.8" height="27.6" rx="0.7" fill="url(#gd)" stroke="#4d6186" stroke-width="1"/>
<text y="846.31" font-size="11.6"><tspan x="334.26" class="c" fill="#2c374d">尺码</tspan><tspan x="358.16" font-size="10.4" font-weight="700" fill="#1e2738">1</tspan></text>
<rect x="388.8" y="829.7" width="60.8" height="27.6" rx="0.7" fill="#5b6880" fill-opacity=".7"/>
<rect x="387.2" y="828.1" width="60.8" height="27.6" rx="0.7" fill="url(#gd)" stroke="#4d6186" stroke-width="1"/>
<text y="846.31" font-size="11.6"><tspan x="391.16" class="c" fill="#2c374d">颜色分类</tspan><tspan x="438.26" font-size="10.4" font-weight="700" fill="#1e2738">2</tspan></text>
<text x="446.8" y="864.9" text-anchor="end" font-size="9.3" fill="#2a2a2a">sku2</text>
<text class="c" font-size="9.7" fill="#505050"><tspan x="305.35" y="732.39">关</tspan><tspan x="305.35" y="742.59">键</tspan><tspan x="305.35" y="752.69">属</tspan><tspan x="305.35" y="762.59">性</tspan></text>
<text class="c" font-size="9.7" fill="#505050"><tspan x="305.35" y="789.99">销</tspan><tspan x="305.35" y="800.09">售</tspan><tspan x="305.35" y="810.09">属</tspan><tspan x="305.35" y="820.09">性</tspan></text>
<text y="898.65" font-size="11.7"><tspan x="342.4" class="c" fill="#636363">其它商品属性</tspan></text>
<text y="932.71" font-size="11.6"><tspan x="341.62" class="c" fill="#3a3a3a">卖家</tspan><tspan x="365.52" font-size="10.1" font-weight="700" fill="#262626">B-- X</tspan><tspan x="389.98" class="c" fill="#3a3a3a">商品</tspan></text>
<rect x="496.7" y="713.3" width="187" height="229.3" rx="13" fill="#cfcfcf" fill-opacity=".46" stroke="#5f7499" stroke-width="1.2"/>
<path d="M590.7 771.8 L590.7 778.3" fill="none" stroke="#5a6c8c" stroke-width="1.2"/>
<path d="M590.7 871.3 L590.7 877.8" fill="none" stroke="#5a6c8c" stroke-width="1.2"/>
<rect x="513.2" y="720.3" width="153.6" height="51.5" fill="#c2c2c2" fill-opacity=".62" stroke="#6b7c9a" stroke-width="1.3" stroke-dasharray="5.5 3"/>
<rect x="513.2" y="778.1" width="153.6" height="93.2" fill="#c2c2c2" fill-opacity=".62" stroke="#6b7c9a" stroke-width="1.3" stroke-dasharray="5.5 3"/>
<rect x="513.2" y="877.8" width="153.6" height="36.1" fill="#c2c2c2" fill-opacity=".62" stroke="#6b7c9a" stroke-width="1.3" stroke-dasharray="5.5 3"/>
<rect x="533.3" y="731.9" width="59.8" height="27.8" rx="0.7" fill="#5b6880" fill-opacity=".7"/>
<rect x="531.7" y="730.3" width="59.8" height="27.8" rx="0.7" fill="url(#gd)" stroke="#4d6186" stroke-width="1"/>
<text y="748.51" font-size="11.6"><tspan x="545.89" class="c" fill="#2c374d">品牌</tspan><tspan x="569.79" font-size="10.4" font-weight="700" fill="#1e2738">B</tspan></text>
<rect x="601.3" y="731.9" width="60.8" height="27.8" rx="0.7" fill="#5b6880" fill-opacity=".7"/>
<rect x="599.7" y="730.3" width="60.8" height="27.8" rx="0.7" fill="url(#gd)" stroke="#4d6186" stroke-width="1"/>
<text y="748.51" font-size="11.6"><tspan x="614.39" class="c" fill="#2c374d">货号</tspan><tspan x="638.29" font-size="10.4" font-weight="700" fill="#1e2738">B</tspan></text>
<path d="M591.5 797.1 L599.7 797.1" fill="none" stroke="#4a5a78" stroke-width="1.4"/>
<rect x="533.3" y="784.9" width="59.8" height="27.6" rx="0.7" fill="#5b6880" fill-opacity=".7"/>
<rect x="531.7" y="783.3" width="59.8" height="27.6" rx="0.7" fill="url(#gd)" stroke="#4d6186" stroke-width="1"/>
<text y="801.51" font-size="11.6"><tspan x="546.76" class="c" fill="#2c374d">尺码</tspan><tspan x="570.66" font-size="10.4" font-weight="700" fill="#1e2738">2</tspan></text>
<rect x="601.3" y="784.9" width="60.8" height="27.6" rx="0.7" fill="#5b6880" fill-opacity=".7"/>
<rect x="599.7" y="783.3" width="60.8" height="27.6" rx="0.7" fill="url(#gd)" stroke="#4d6186" stroke-width="1"/>
<text y="801.51" font-size="11.6"><tspan x="603.66" class="c" fill="#2c374d">颜色分类</tspan><tspan x="650.76" font-size="10.4" font-weight="700" fill="#1e2738">2</tspan></text>
<text x="659.3" y="820.1" text-anchor="end" font-size="9.3" fill="#2a2a2a">sku1</text>
<path d="M591.5 843.5 L599.7 843.5" fill="none" stroke="#4a5a78" stroke-width="1.4"/>
<rect x="533.3" y="831.3" width="59.8" height="27.6" rx="0.7" fill="#5b6880" fill-opacity=".7"/>
<rect x="531.7" y="829.7" width="59.8" height="27.6" rx="0.7" fill="url(#gd)" stroke="#4d6186" stroke-width="1"/>
<text y="847.91" font-size="11.6"><tspan x="546.76" class="c" fill="#2c374d">尺码</tspan><tspan x="570.66" font-size="10.4" font-weight="700" fill="#1e2738">3</tspan></text>
<rect x="601.3" y="831.3" width="60.8" height="27.6" rx="0.7" fill="#5b6880" fill-opacity=".7"/>
<rect x="599.7" y="829.7" width="60.8" height="27.6" rx="0.7" fill="url(#gd)" stroke="#4d6186" stroke-width="1"/>
<text y="847.91" font-size="11.6"><tspan x="603.66" class="c" fill="#2c374d">颜色分类</tspan><tspan x="650.76" font-size="10.4" font-weight="700" fill="#1e2738">2</tspan></text>
<text x="659.3" y="866.5" text-anchor="end" font-size="9.3" fill="#2a2a2a">sku2</text>
<text class="c" font-size="9.7" fill="#505050"><tspan x="517.85" y="733.99">关</tspan><tspan x="517.85" y="744.19">键</tspan><tspan x="517.85" y="754.29">属</tspan><tspan x="517.85" y="764.19">性</tspan></text>
<text class="c" font-size="9.7" fill="#505050"><tspan x="517.85" y="791.59">销</tspan><tspan x="517.85" y="801.69">售</tspan><tspan x="517.85" y="811.69">属</tspan><tspan x="517.85" y="821.69">性</tspan></text>
<text y="900.25" font-size="11.7"><tspan x="554.9" class="c" fill="#636363">其它商品属性</tspan></text>
<text y="934.31" font-size="11.6"><tspan x="554.12" class="c" fill="#3a3a3a">卖家</tspan><tspan x="578.02" font-size="10.1" font-weight="700" fill="#262626">C-- X</tspan><tspan x="602.48" class="c" fill="#3a3a3a">商品</tspan></text>
<circle cx="350" cy="681.8" r="2.6" fill="#3f5a88"/>
<circle cx="171" cy="712" r="2" fill="#46608c"/>
<circle cx="377.6" cy="712" r="2" fill="#46608c"/>
<circle cx="590.8" cy="714" r="2" fill="#46608c"/>
</svg>
</body></html>
